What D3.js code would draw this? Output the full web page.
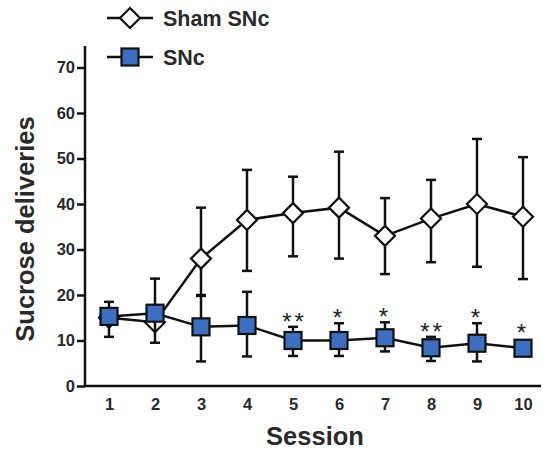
<!DOCTYPE html>
<html>
<head>
<meta charset="utf-8">
<script src="https://cdn.jsdelivr.net/npm/d3@7"></script>
<style>
  body { margin: 0; background: #fff; }
  text { font-family: "Liberation Sans", Arial, sans-serif; font-weight: bold; }
</style>
</head>
<body>
<div id="chart"></div>
<script>
var sessions = [1, 2, 3, 4, 5, 6, 7, 8, 9, 10];
var shamMean = [15, 14, 28, 36.5, 38, 39.2, 33, 36.8, 40, 37.2];
var shamHi = [15, 14, 39.2, 47.5, 46, 51.5, 41.3, 45.3, 54.3, 50.3];
var shamLo = [15, 14, 19.8, 25.3, 28.5, 28, 24.6, 27.2, 26.2, 23.5];
var sncMean = [15.3, 16, 13, 13.3, 10, 10, 10.6, 8.4, 9.4, 8.3];
var sncHi = [18.5, 23.6, 20, 20.7, 13, 13.8, 14, 10.8, 13.8, 8.3];
var sncLo = [10.8, 9.5, 5.4, 6.5, 6.6, 6.6, 7.6, 5.5, 5.4, 8.3];
var stars = ["", "", "", "", "**", "*", "*", "**", "*", "*"];
var yTicks = [0, 10, 20, 30, 40, 50, 60, 70];

var svgWidth = 543, svgHeight = 454;
var svg = d3.select("#chart").append("svg")
  .attr("width", svgWidth)
  .attr("height", svgHeight);

var xScale = d3.scaleLinear().domain([1, 10]).range([109, 523]);
var yScale = d3.scaleLinear().domain([0, 70]).range([386, 67.5]);

// axes
svg.append("line")
  .attr("x1", 85).attr("x2", 85)
  .attr("y1", 46).attr("y2", 387)
  .attr("stroke", "#111").attr("stroke-width", 2.5);
svg.append("line")
  .attr("x1", 84).attr("x2", 541)
  .attr("y1", 386).attr("y2", 386)
  .attr("stroke", "#111").attr("stroke-width", 2.5);

var yAxis = d3.axisLeft(yScale).tickValues(yTicks).tickSize(8).tickPadding(2);
var yg = svg.append("g").attr("transform", "translate(85,0)").call(yAxis);
yg.select(".domain").remove();
yg.selectAll(".tick line").attr("stroke", "#111").attr("stroke-width", 2.5);
yg.selectAll(".tick text").attr("font-size", 16.5).attr("fill", "#2a2a2a")
  .style("font-weight", "bold");

var xAxis = d3.axisBottom(xScale).tickValues(sessions).tickSize(0).tickPadding(12)
  .tickFormat(d3.format("d"));
var xg = svg.append("g").attr("transform", "translate(0,386)").call(xAxis);
xg.select(".domain").remove();
xg.selectAll(".tick text").attr("font-size", 16.5).attr("fill", "#2a2a2a")
  .style("font-weight", "bold");

svg.append("text")
  .attr("x", 315).attr("y", 445)
  .attr("text-anchor", "middle")
  .attr("font-size", 25.5).attr("fill", "#2a2a2a")
  .text("Session");
svg.append("text")
  .attr("transform", "translate(34,229) rotate(-90)")
  .attr("text-anchor", "middle")
  .attr("font-size", 25.5).attr("fill", "#2a2a2a")
  .text("Sucrose deliveries");

function drawSeries(mean, hi, lo, kind) {
  var g = svg.append("g");
  var line = d3.line().x((d, i) => xScale(sessions[i])).y(d => yScale(d));
  g.append("path").datum(mean)
    .attr("d", line).attr("fill", "none")
    .attr("stroke", "#111").attr("stroke-width", 2.5);
  sessions.forEach(function(s, i) {
    var x = xScale(s);
    g.append("line").attr("x1", x).attr("x2", x)
      .attr("y1", yScale(hi[i])).attr("y2", yScale(lo[i]))
      .attr("stroke", "#111").attr("stroke-width", 2.5);
    [hi[i], lo[i]].forEach(function(v) {
      g.append("line").attr("x1", x - 5).attr("x2", x + 5)
        .attr("y1", yScale(v)).attr("y2", yScale(v))
        .attr("stroke", "#111").attr("stroke-width", 2.5);
    });
  });
  sessions.forEach(function(s, i) {
    drawMarker(g, xScale(s), yScale(mean[i]), kind);
  });
}

function drawMarker(g, x, y, kind) {
  if (kind === "diamond") {
    g.append("path")
      .attr("d", `M${x},${y - 10}L${x + 10},${y}L${x},${y + 10}L${x - 10},${y}Z`)
      .attr("fill", "#fff").attr("stroke", "#111").attr("stroke-width", 2.2);
  } else {
    g.append("rect")
      .attr("x", x - 8.5).attr("y", y - 8.5)
      .attr("width", 17).attr("height", 17)
      .attr("fill", "#3a6fc2").attr("stroke", "#111").attr("stroke-width", 2.2);
  }
}

drawSeries(shamMean, shamHi, shamLo, "diamond");
drawSeries(sncMean, sncHi, sncLo, "square");

// significance stars
svg.selectAll(".star").data(stars).enter().append("text")
  .attr("class", "star")
  .attr("x", (d, i) => xScale(sessions[i]) + (d.length > 1 ? 1.5 : 0))
  .attr("y", (d, i) => yScale(Math.max(sncHi[i], sncMean[i] + 2.2)) + 3)
  .attr("text-anchor", "middle")
  .attr("font-size", 24).attr("fill", "#222")
  .attr("letter-spacing", 3)
  .style("font-weight", "normal")
  .text(d => d);

// legend
var legend = [{ name: "Sham SNc", kind: "diamond", y: 18 }, { name: "SNc", kind: "square", y: 57 }];
legend.forEach(function(l) {
  var g = svg.append("g");
  g.append("line").attr("x1", 107).attr("x2", 153)
    .attr("y1", l.y).attr("y2", l.y)
    .attr("stroke", "#111").attr("stroke-width", 2.5);
  drawMarker(g, 130, l.y, l.kind);
  g.append("text").attr("x", 163).attr("y", l.y + 7.5)
    .attr("font-size", 21.5).attr("fill", "#2a2a2a")
    .text(l.name);
});
</script>
</body>
</html>
